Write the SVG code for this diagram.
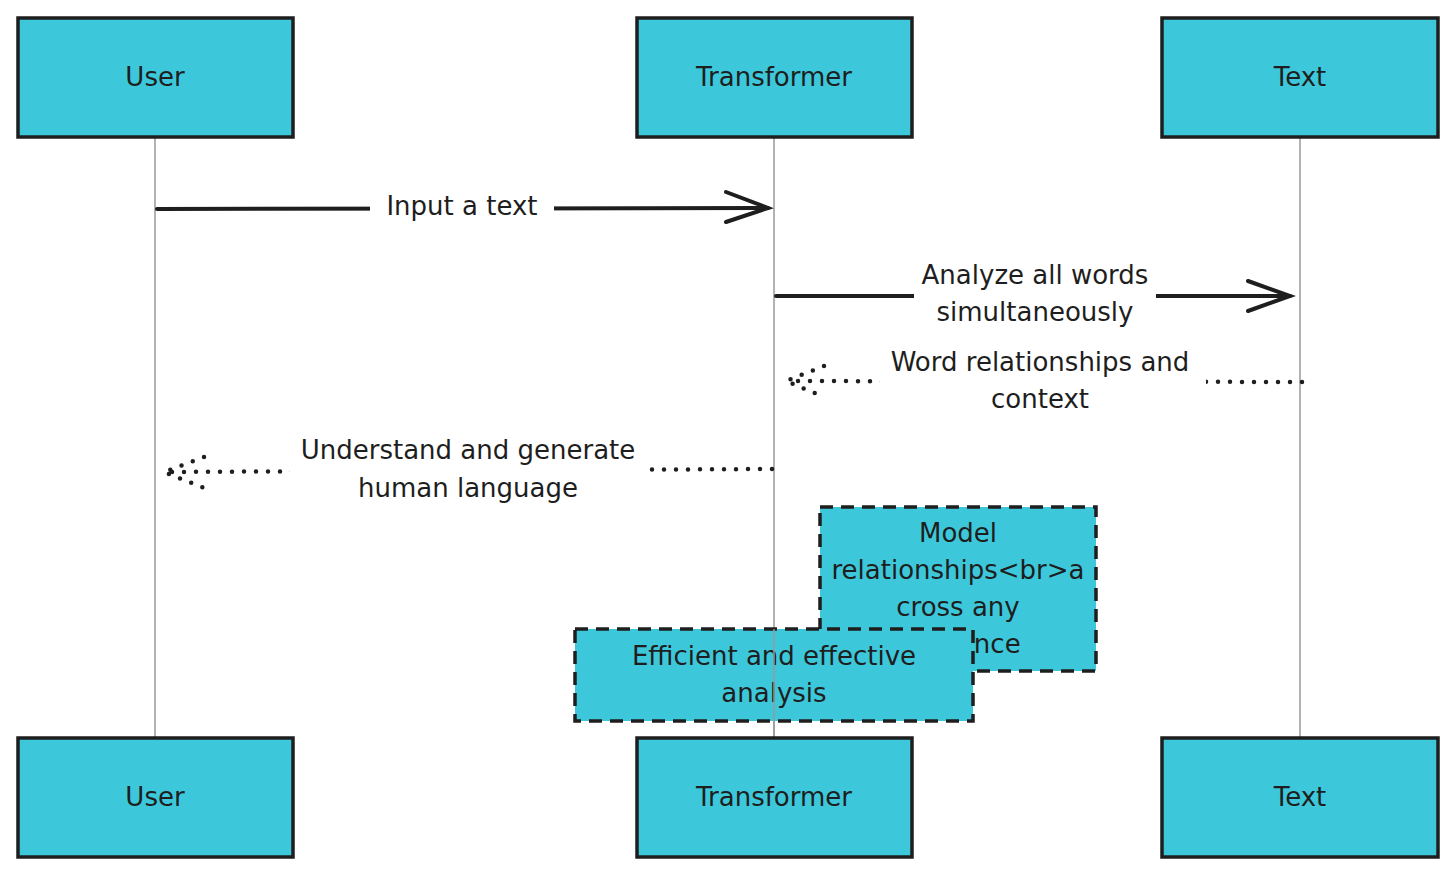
<svg xmlns="http://www.w3.org/2000/svg" width="1456" height="875" viewBox="0 0 1456 875">
<style>
.actor{fill:#3CC8DA;stroke:#1e1e1e;stroke-width:3.5}
.lbl{font-family:"DejaVu Sans","Liberation Sans",sans-serif;font-size:26px;fill:#1e1e1e;text-anchor:middle}
.life{stroke:#999;stroke-width:1.5}
.solid{stroke:#1e1e1e;stroke-width:4;fill:none;stroke-linecap:round}
.dot{stroke:#1e1e1e;stroke-width:4.5;fill:none;stroke-linecap:round;stroke-dasharray:0 12}
.note{fill:#3CC8DA;stroke:#1e1e1e;stroke-width:3.5;stroke-dasharray:13 8}
.bg{fill:#fff}
</style>
<rect width="1456" height="875" fill="#fff"/>
<g id="lifelines">
<line class="life" x1="155" y1="137" x2="155" y2="738"/>
<line class="life" x1="774" y1="137" x2="774" y2="738"/>
<line class="life" x1="1300" y1="137" x2="1300" y2="738"/>
</g>
<g id="connectors">
<g id="m1">
<line class="solid" x1="157" y1="209" x2="768" y2="208"/>
<polyline class="solid" points="726,192 768,208 726,222"/>
<rect class="bg" x="370" y="188" width="184" height="34"/>
<text class="lbl" x="462" y="215">Input a text</text>
</g>
<g id="m2">
<line class="solid" x1="776" y1="296" x2="1290" y2="296"/>
<polyline class="solid" points="1248,281 1290,296 1248,311"/>
<rect class="bg" x="914" y="256" width="242" height="72"/>
<text class="lbl" x="1035" y="284">Analyze all words</text>
<text class="lbl" x="1035" y="321">simultaneously</text>
</g>
<g id="m3">
<line class="dot" x1="1302" y1="382" x2="787" y2="381"/>
<polyline class="dot" points="824,366 786,381 824,397"/>
<rect class="bg" x="880" y="344" width="326" height="72"/>
<text class="lbl" x="1040" y="371">Word relationships and</text>
<text class="lbl" x="1040" y="408">context</text>
</g>
<g id="m4">
<line class="dot" x1="772" y1="469" x2="164" y2="472"/>
<polyline class="dot" points="204,457 164,472 204,488"/>
<rect class="bg" x="290" y="432" width="356" height="72"/>
<text class="lbl" x="468" y="459">Understand and generate</text>
<text class="lbl" x="468" y="497">human language</text>
</g>
</g>
<g id="actor-user-top"><rect class="actor" x="18" y="18" width="275" height="119"/><text class="lbl" x="155" y="86">User</text></g>
<g id="actor-transformer-top"><rect class="actor" x="637" y="18" width="275" height="119"/><text class="lbl" x="774" y="86">Transformer</text></g>
<g id="actor-text-top"><rect class="actor" x="1162" y="18" width="276" height="119"/><text class="lbl" x="1300" y="86">Text</text></g>
<g id="note-model">
<rect class="note" x="820" y="507" width="276" height="164"/>
<text class="lbl" x="958" y="542">Model</text>
<text class="lbl" x="958" y="579">relationships&lt;br&gt;a</text>
<text class="lbl" x="958" y="616">cross any</text>
<text class="lbl" x="958" y="653">sequence</text>
</g>
<g id="note-efficient">
<rect class="note" x="575" y="629" width="398" height="92"/>
<text class="lbl" x="774" y="665">Efficient and effective</text>
<text class="lbl" x="774" y="702">analysis</text>
</g>
<g id="lifeline-over-note"><line class="life" x1="774" y1="629" x2="774" y2="738"/></g>
<g id="actor-user-bottom"><rect class="actor" x="18" y="738" width="275" height="119"/><text class="lbl" x="155" y="806">User</text></g>
<g id="actor-transformer-bottom"><rect class="actor" x="637" y="738" width="275" height="119"/><text class="lbl" x="774" y="806">Transformer</text></g>
<g id="actor-text-bottom"><rect class="actor" x="1162" y="738" width="276" height="119"/><text class="lbl" x="1300" y="806">Text</text></g>
</svg>
